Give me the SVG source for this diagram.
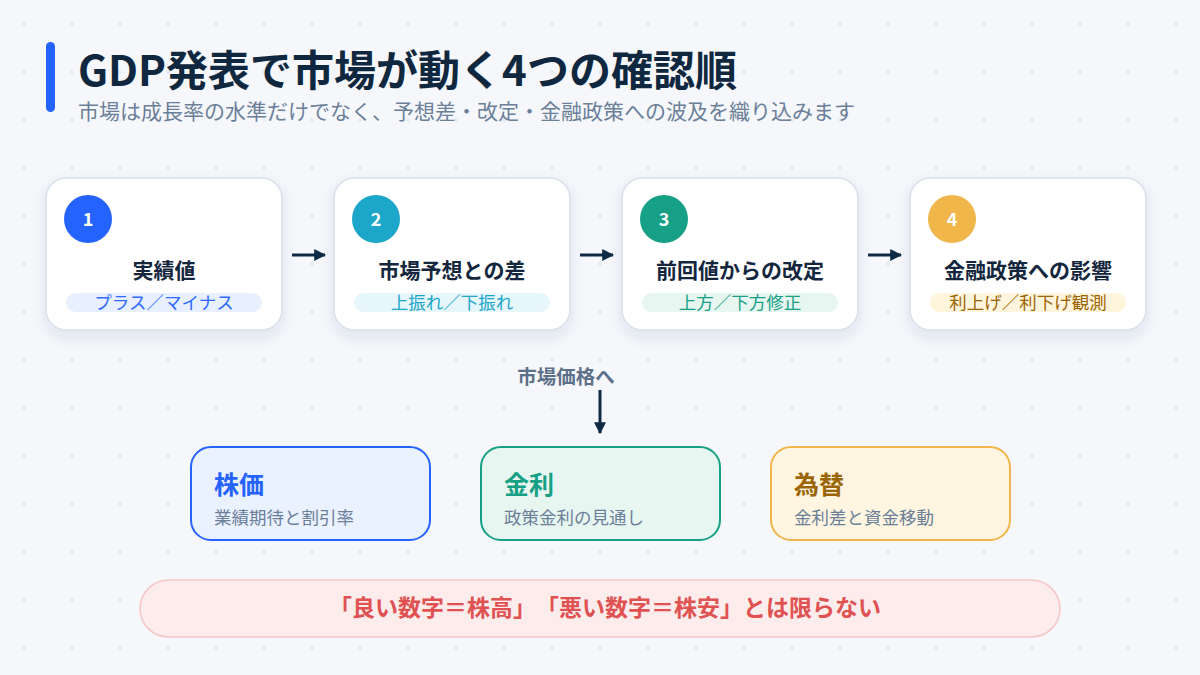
<svg xmlns="http://www.w3.org/2000/svg" width="1200" height="675" viewBox="0 0 1200 675">
<defs>
<pattern id="grid" x="0" y="0" width="48" height="48" patternUnits="userSpaceOnUse">
<path d="M22 24h4M24 22v4" stroke="#dfe5ee" stroke-width="1"/>
</pattern>
<filter id="sh" x="-20%" y="-20%" width="140%" height="150%">
<feDropShadow dx="0" dy="6" stdDeviation="7" flood-color="#1e3a5f" flood-opacity="0.10"/>
</filter>
<marker id="ah" viewBox="0 0 10 10" refX="9" refY="5" markerWidth="4" markerHeight="4" orient="auto" markerUnits="strokeWidth">
<path d="M0 0L10 5L0 10z" fill="#0f2a44"/>
</marker>
<style>
text{font-family:"Noto Sans CJK JP","Noto Sans",sans-serif;text-spacing-trim:space-all}
.card{fill:#fff;stroke:#d8e0eb;stroke-width:1.5}
.num{fill:#fff;font-size:18px;font-weight:700;text-anchor:middle}
.ct{fill:#14263d;font-size:21px;font-weight:700;text-anchor:middle}
.pt{font-size:17.5px;text-anchor:middle}
.conn{stroke:#0f2a44;stroke-width:3;fill:none}
.bt{font-size:25px;font-weight:700}
.bs{font-size:17.5px;fill:#6b7f99}
</style>
</defs>
<rect width="1200" height="675" fill="#f5f7fb"/>
<rect width="1200" height="675" fill="url(#grid)"/>

<g id="header">
<rect x="46" y="42" width="9" height="70" rx="4.5" fill="#2563ff"/>
<text x="78" y="86" font-size="42" font-weight="700" fill="#10283f">GDP発表で市場が動く4つの確認順</text>
<text x="78" y="119" font-size="21" fill="#6b7f99">市場は成長率の水準だけでなく、予想差・改定・金融政策への波及を織り込みます</text>
</g>

<g id="step1">
<rect class="card" x="46" y="178" width="236" height="152" rx="20" filter="url(#sh)"/>
<circle cx="88" cy="219" r="24" fill="#2563ff"/>
<text class="num" x="88" y="225.5">1</text>
<text class="ct" x="164" y="278">実績値</text>
<rect x="66" y="293" width="196" height="19" rx="9.5" fill="#e8f0ff"/>
<text class="pt" x="164" y="308.5" fill="#2f6bff">プラス／マイナス</text>
</g>
<g id="step2">
<rect class="card" x="334" y="178" width="236" height="152" rx="20" filter="url(#sh)"/>
<circle cx="376" cy="219" r="24" fill="#1ba6ca"/>
<text class="num" x="376" y="225.5">2</text>
<text class="ct" x="452" y="278">市場予想との差</text>
<rect x="354" y="293" width="196" height="19" rx="9.5" fill="#e6f6fb"/>
<text class="pt" x="452" y="308.5" fill="#1ba6ca">上振れ／下振れ</text>
</g>
<g id="step3">
<rect class="card" x="622" y="178" width="236" height="152" rx="20" filter="url(#sh)"/>
<circle cx="664" cy="219" r="24" fill="#16a085"/>
<text class="num" x="664" y="225.5">3</text>
<text class="ct" x="740" y="278">前回値からの改定</text>
<rect x="642" y="293" width="196" height="19" rx="9.5" fill="#e7f6f1"/>
<text class="pt" x="740" y="308.5" fill="#16a085">上方／下方修正</text>
</g>
<g id="step4">
<rect class="card" x="910" y="178" width="236" height="152" rx="20" filter="url(#sh)"/>
<circle cx="952" cy="219" r="24" fill="#f0b64a"/>
<text class="num" x="952" y="225.5">4</text>
<text class="ct" x="1028" y="278">金融政策への影響</text>
<rect x="930" y="293" width="196" height="19" rx="9.5" fill="#fff4dc"/>
<text class="pt" x="1028" y="308.5" fill="#9a6500">利上げ／利下げ観測</text>
</g>

<g id="connectors">
<line class="conn" x1="292" y1="255" x2="325" y2="255" marker-end="url(#ah)"/>
<line class="conn" x1="580" y1="255" x2="613" y2="255" marker-end="url(#ah)"/>
<line class="conn" x1="868" y1="255" x2="901" y2="255" marker-end="url(#ah)"/>
<line class="conn" x1="600" y1="390" x2="600" y2="433" marker-end="url(#ah)"/>
</g>

<g id="market-label">
<text x="566" y="384" font-size="19.5" font-weight="700" fill="#5d7089" text-anchor="middle">市場価格へ</text>
</g>

<g id="stock">
<rect x="191" y="447" width="239" height="93" rx="20" fill="#eaf1ff" stroke="#2563ff" stroke-width="2"/>
<text class="bt" x="214" y="494" fill="#2563ff">株価</text>
<text class="bs" x="214" y="524">業績期待と割引率</text>
</g>
<g id="rate">
<rect x="481" y="447" width="239" height="93" rx="20" fill="#e7f6f1" stroke="#16a085" stroke-width="2"/>
<text class="bt" x="504" y="494" fill="#16a085">金利</text>
<text class="bs" x="504" y="524">政策金利の見通し</text>
</g>
<g id="fx">
<rect x="771" y="447" width="239" height="93" rx="20" fill="#fff5e0" stroke="#f0b64a" stroke-width="2"/>
<text class="bt" x="794" y="494" fill="#9a6500">為替</text>
<text class="bs" x="794" y="524">金利差と資金移動</text>
</g>

<g id="note">
<rect x="140" y="580" width="920" height="57" rx="28.5" fill="#fdecec" stroke="#f5c6c6" stroke-width="1.5"/>
<text x="605" y="616" font-size="23" font-weight="700" fill="#e05252" text-anchor="middle">「良い数字＝株高」「悪い数字＝株安」とは限らない</text>
</g>
</svg>
